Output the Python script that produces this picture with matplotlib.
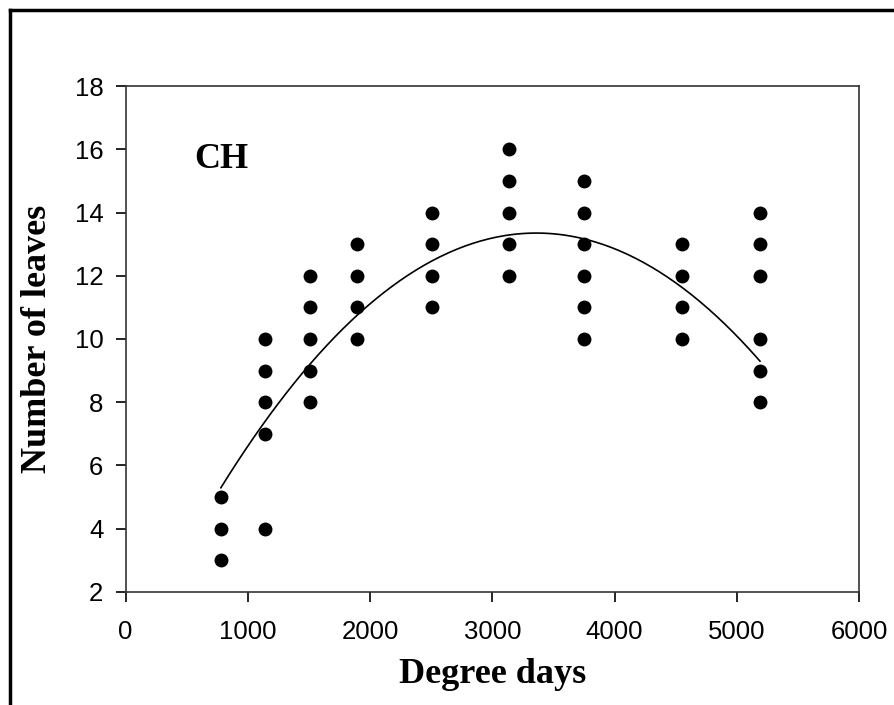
import numpy as np
import matplotlib
matplotlib.use("Agg")
import matplotlib.pyplot as plt
from matplotlib.lines import Line2D

# degree days (x) and number of leaves (y)
dd_780 = [3, 4, 5]
dd_1140 = [4, 7, 8, 9, 10]
dd_1510 = [8, 9, 10, 11, 12]
dd_1895 = [10, 11, 12, 13]
dd_2510 = [11, 12, 13, 14]
dd_3140 = [12, 13, 14, 15, 16]
dd_3750 = [10, 11, 12, 13, 14, 15]
dd_4550 = [10, 11, 12, 13]
dd_5190 = [8, 9, 10, 12, 13, 14]

degree_days = [780, 1140, 1510, 1895, 2510, 3140, 3750, 4550, 5190]
leaves = [dd_780, dd_1140, dd_1510, dd_1895, dd_2510, dd_3140, dd_3750, dd_4550, dd_5190]

# quadratic regression (vertex form)
fit_peak_x = 3360
fit_peak_y = 13.35
fit_a = -1.21e-6

x = np.concatenate([[d] * len(v) for d, v in zip(degree_days, leaves)])
y = np.concatenate(leaves)

xf = np.linspace(min(degree_days), max(degree_days), 200)
yf = fit_a * (xf - fit_peak_x) ** 2 + fit_peak_y

fig = plt.figure(figsize=(8.94, 7.05), dpi=100)
ax = fig.add_axes([0.1404, 0.1603, 0.8205, 0.7177])

ax.scatter(x, y, s=100, c="black", zorder=3, linewidths=0)
ax.plot(xf, yf, color="black", lw=1.2)

ax.set_xlim(0, 6000)
ax.set_ylim(2, 18)
ax.set_xticks(np.arange(0, 6001, 1000))
ax.set_yticks(np.arange(2, 19, 2))
ax.tick_params(direction="out", length=7, width=1.2, labelsize=18.5)
ax.tick_params(axis="x", pad=13)
ax.tick_params(axis="y", pad=9)
for t in ax.get_xticklabels() + ax.get_yticklabels():
    t.set_family("Liberation Sans")
for s in ax.spines.values():
    s.set_linewidth(1.2)
    s.set_color("#333333")

ax.set_xlabel("Degree days", family="Liberation Serif", weight="bold", fontsize=26)
ax.set_ylabel("Number of leaves", family="Liberation Serif", weight="bold", fontsize=26)
ax.xaxis.set_label_coords(0.5, -0.13)
ax.yaxis.set_label_coords(-0.098, 0.5)
ax.text(781, 15.42, "CH", family="Liberation Serif", weight="bold", fontsize=26, ha="center", va="baseline")

# outer frame (cut off on the right and bottom)
fig.add_artist(Line2D([10 / 894, 1.0], [1 - 10 / 705] * 2, transform=fig.transFigure, color="black", lw=2.5))
fig.add_artist(Line2D([10 / 894] * 2, [0, 1 - 10 / 705], transform=fig.transFigure, color="black", lw=2.5))

fig.savefig("out.png", dpi=100)
